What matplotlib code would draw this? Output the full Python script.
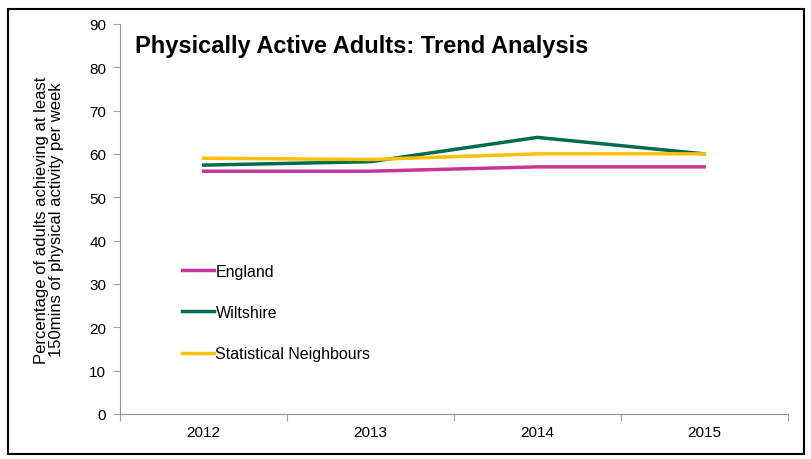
import matplotlib
matplotlib.use("Agg")
import matplotlib.pyplot as plt
from matplotlib.patches import Rectangle

plt.rcParams['font.family'] = ['Liberation Sans', 'DejaVu Sans']

years = ['2012', '2013', '2014', '2015']
england = [56, 56, 57, 57]
wiltshire = [57.4, 58.2, 63.8, 60]
neighbours = [59, 58.7, 60, 60]

fig = plt.figure(figsize=(8.12, 4.6), dpi=100)
ax = fig.add_axes([0.148, 0.098, 0.822, 0.848])

x = range(len(years))
ax.plot(x, england, color='#C8359A', lw=2.5, label='England')
ax.plot(x, wiltshire, color='#006B4E', lw=2.5, label='Wiltshire')
ax.plot(x, neighbours, color='#FFC000', lw=2.5, label='Statistical Neighbours')

ax.set_ylim(0, 90)
ax.set_yticks(range(0, 91, 10))
ax.set_xlim(-0.5, len(years) - 0.5)
# tick marks between categories, labels in the middle
ax.set_xticks([i - 0.5 for i in range(len(years) + 1)])
ax.set_xticklabels([])
ax.set_xticks(list(x), minor=True)
ax.set_xticklabels(years, minor=True)
ax.tick_params(axis='x', which='minor', length=0, pad=8, labelsize=11)
ax.tick_params(axis='x', which='major', length=5, color='#A0A0A0')
ax.tick_params(axis='y', length=5, color='#A0A0A0', labelsize=11, pad=5)

for s in ['top', 'right']:
    ax.spines[s].set_visible(False)
for s in ['left', 'bottom']:
    ax.spines[s].set_color('#909090')

ax.set_ylabel('Percentage of adults achieving at least\n150mins of physical activity per week',
              fontsize=12, labelpad=18, linespacing=1.05)

ax.text(0.022, 0.975, 'Physically Active Adults: Trend Analysis', transform=ax.transAxes,
        fontsize=17, fontweight='bold', va='top', ha='left')

ax.legend(loc='upper left', bbox_to_anchor=(0.071, 0.422), frameon=False, fontsize=11.5,
          handlelength=2.0, handletextpad=0.1, labelspacing=1.65)

fig.patches.append(Rectangle((0.01, 0.01), 0.98, 0.968, transform=fig.transFigure,
                             fill=False, edgecolor='black', lw=1.5))

fig.savefig('out.png', dpi=100)
